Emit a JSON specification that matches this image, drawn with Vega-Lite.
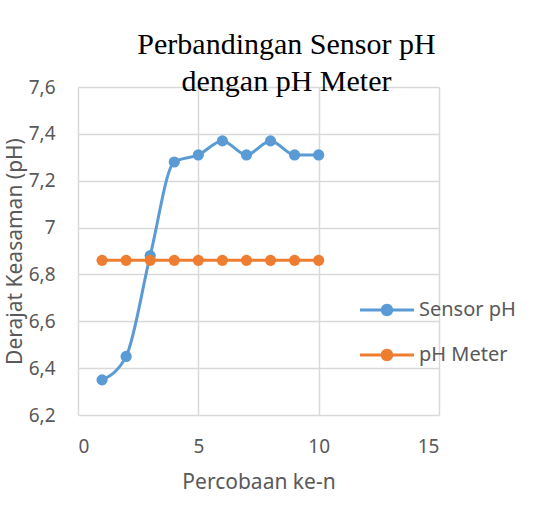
{
  "$schema": "https://vega.github.io/schema/vega-lite/v6.json",
  "width": 361,
  "height": 328,
  "autosize": {"type": "none"},
  "padding": {"left": 78, "top": 87, "right": 102, "bottom": 93},
  "background": "white",
  "title": {
    "text": ["Perbandingan Sensor pH", "dengan pH Meter"],
    "font": "Liberation Serif",
    "fontSize": 30,
    "fontWeight": "normal",
    "color": "black",
    "lineHeight": 37,
    "anchor": "middle",
    "frame": "group",
    "dx": 28,
    "baseline": "alphabetic",
    "offset": -43
  },
  "data": {
    "values": [
      {"x": 1, "series": "Sensor pH", "pH": 6.35},
      {"x": 2, "series": "Sensor pH", "pH": 6.45},
      {"x": 3, "series": "Sensor pH", "pH": 6.88},
      {"x": 4, "series": "Sensor pH", "pH": 7.28},
      {"x": 5, "series": "Sensor pH", "pH": 7.31},
      {"x": 6, "series": "Sensor pH", "pH": 7.37},
      {"x": 7, "series": "Sensor pH", "pH": 7.31},
      {"x": 8, "series": "Sensor pH", "pH": 7.37},
      {"x": 9, "series": "Sensor pH", "pH": 7.31},
      {"x": 10, "series": "Sensor pH", "pH": 7.31},
      {"x": 1, "series": "pH Meter", "pH": 6.86},
      {"x": 2, "series": "pH Meter", "pH": 6.86},
      {"x": 3, "series": "pH Meter", "pH": 6.86},
      {"x": 4, "series": "pH Meter", "pH": 6.86},
      {"x": 5, "series": "pH Meter", "pH": 6.86},
      {"x": 6, "series": "pH Meter", "pH": 6.86},
      {"x": 7, "series": "pH Meter", "pH": 6.86},
      {"x": 8, "series": "pH Meter", "pH": 6.86},
      {"x": 9, "series": "pH Meter", "pH": 6.86},
      {"x": 10, "series": "pH Meter", "pH": 6.86}
    ]
  },
  "encoding": {
    "x": {
      "field": "x",
      "type": "quantitative",
      "scale": {"domain": [0, 15], "nice": false, "zero": false},
      "axis": {
        "title": "Percobaan ke-n",
        "values": [0, 5, 10, 15],
        "domain": false,
        "ticks": false,
        "grid": true,
        "labelPadding": 22,
        "titlePadding": 15
      }
    },
    "y": {
      "field": "pH",
      "type": "quantitative",
      "scale": {"domain": [6.2, 7.6], "nice": false, "zero": false},
      "axis": {
        "title": "Derajat Keasaman (pH)",
        "values": [6.2, 6.4, 6.6, 6.8, 7.0, 7.2, 7.4, 7.6],
        "labelExpr": "replace(format(datum.value, '.2~f'), '.', ',')",
        "domain": false,
        "ticks": false,
        "grid": true,
        "labelPadding": 23,
        "titleX": -63,
        "titleY": 164,
        "titleBaseline": "middle",
        "titleAngle": -90
      }
    },
    "color": {
      "field": "series",
      "type": "nominal",
      "scale": {"domain": ["Sensor pH", "pH Meter"], "range": ["#5B9BD5", "#ED7D31"]},
      "legend": {
        "title": null,
        "orient": "none",
        "legendX": 282,
        "legendY": 196,
        "symbolType": "M-1,-0.056L1,-0.056L1,0.056L-1,0.056Z M0.23,0A0.23,0.23 0 1,1 -0.23,0A0.23,0.23 0 1,1 0.23,0Z",
        "symbolSize": 2916,
        "symbolStrokeWidth": 0,
        "labelFontSize": 20,
        "labelFont": "Noto Sans",
        "labelColor": "#595959",
        "labelOffset": 5,
        "rowPadding": 8
      }
    }
  },
  "layer": [
    {"mark": {"type": "line", "strokeWidth": 3, "interpolate": "monotone"}},
    {"mark": {"type": "point", "filled": true, "size": 125, "opacity": 1, "shape": "circle"}}
  ],
  "config": {
    "view": {"stroke": null},
    "axis": {
      "labelFont": "Noto Sans",
      "labelFontSize": 19,
      "labelColor": "#595959",
      "titleFont": "Noto Sans",
      "titleFontSize": 21,
      "titleFontWeight": "normal",
      "titleColor": "#595959",
      "gridColor": "#d9d9d9",
      "gridWidth": 1.5,
      "gridOpacity": 1
    }
  }
}
